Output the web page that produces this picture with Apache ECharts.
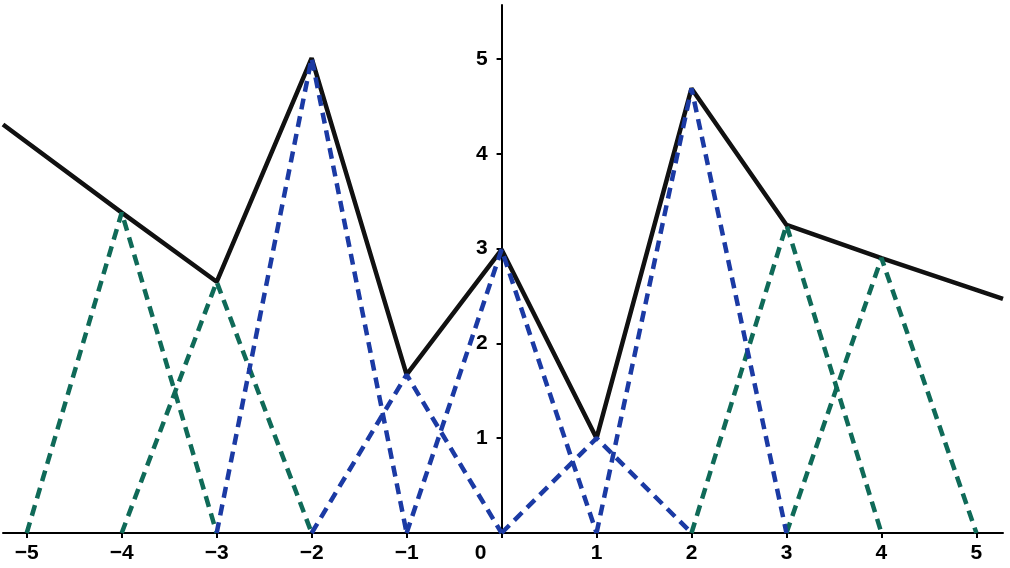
<!DOCTYPE html>
<html>
<head>
<meta charset="utf-8">
<script src="https://cdn.jsdelivr.net/npm/echarts@6/dist/echarts.min.js"></script>
<style>
    html, body { margin: 0; padding: 0; background: #fff; }
    #main { width: 1010px; height: 568px; }
</style>
</head>
<body>
<div id="main"></div>
<script>
// black solid curve
var curveX = [-5.25, -4, -3, -2, -1, 0, 1, 2, 3, 4, 5.28];
var curveY = [4.31, 3.38, 2.65, 5.01, 1.67, 2.99, 1.0, 4.69, 3.25, 2.90, 2.47];

// green dashed hats
var greenCenters = [-4, -3, 3, 4];
var greenPeaks = [3.38, 2.65, 3.25, 2.90];

// blue dashed hats
var blueCenters = [-2, -1, 0, 1, 2];
var bluePeaks = [5.01, 1.67, 2.99, 1.0, 4.69];

// tick labels
var xTicks = [-5, -4, -3, -2, -1, 0, 1, 2, 3, 4, 5];
var yTicks = [1, 2, 3, 4, 5];

var xMin = -5.25, xMax = 5.28;
var gridLeft = 3, gridRight = 7;

function hat(c, v, color) {
    return {
        type: 'line',
        symbol: 'none',
        data: [[c - 1, 0], [c, v], [c + 1, 0]],
        lineStyle: { color: color, width: 4.5, type: [11, 7] },
        z: 3
    };
}

var series = [];
var curve = [];
for (var i = 0; i < curveX.length; i++) {
    curve.push([curveX[i], curveY[i]]);
}
series.push({
    type: 'line',
    symbol: 'none',
    data: curve,
    lineStyle: { color: '#111', width: 4.5 },
    z: 2
});
for (var g = 0; g < greenCenters.length; g++) {
    series.push(hat(greenCenters[g], greenPeaks[g], '#0f6a58'));
}
for (var b = 0; b < blueCenters.length; b++) {
    series.push(hat(blueCenters[b], bluePeaks[b], '#1b3aa4'));
}

// move the y axis onto x = 0
var gridW = 1010 - gridLeft - gridRight;
var yOffset = -gridW * (0 - xMin) / (xMax - xMin);

var myChart = echarts.init(document.getElementById('main'));
var labelFont = {
    color: '#000',
    fontFamily: 'Liberation Sans',
    fontWeight: 'bold',
    fontSize: 21
};
var option = {
    animation: false,
    grid: { left: gridLeft, right: gridRight, top: 5, bottom: 35, outerBoundsMode: 'none', containLabel: false },
    xAxis: {
        type: 'value',
        min: xMin,
        max: xMax,
        splitLine: { show: false },
        axisLine: { onZero: false, lineStyle: { color: '#000', width: 2 } },
        axisTick: { show: true, length: 5, customValues: xTicks, lineStyle: { color: '#000', width: 2 } },
        axisLabel: Object.assign({
            customValues: xTicks,
            margin: 10,
            formatter: function (v) {
                if (v === 0) return '{z|0}';
                return v < 0 ? '\u2212' + Math.abs(v) : '' + v;
            },
            rich: {
                z: { padding: [0, 42, 0, 0], color: '#000', fontFamily: 'Liberation Sans', fontWeight: 'bold', fontSize: 21 }
            }
        }, labelFont)
    },
    yAxis: {
        type: 'value',
        min: 0,
        max: 5.57,
        offset: yOffset,
        splitLine: { show: false },
        axisLine: { onZero: false, lineStyle: { color: '#000', width: 2 } },
        axisTick: { show: true, length: 5, customValues: yTicks, lineStyle: { color: '#000', width: 2 } },
        axisLabel: Object.assign({ customValues: yTicks, margin: 14 }, labelFont)
    },
    series: series
};
myChart.setOption(option);
</script>
</body>
</html>
